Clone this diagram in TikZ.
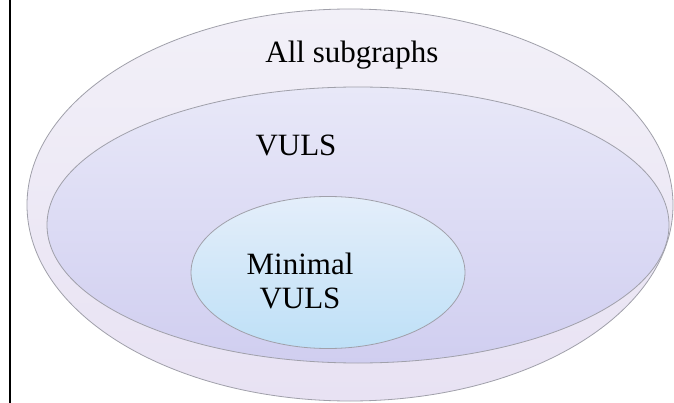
\documentclass[tikz,border=0pt]{standalone}
\usepackage{fontspec}
\setmainfont{Liberation Serif}
\usetikzlibrary{shadings}
\definecolor{outerTop}{RGB}{242,240,248}
\definecolor{outerBot}{RGB}{232,226,243}
\definecolor{midTop}{RGB}{232,232,248}
\definecolor{midBot}{RGB}{208,206,240}
\definecolor{innTop}{RGB}{228,238,250}
\definecolor{innBot}{RGB}{190,224,247}
\definecolor{edge}{RGB}{160,160,170}
\tikzset{
  blob/.style={draw=edge, line width=0.8pt},
  lab/.style={font=\fontsize{31}{34}\selectfont, align=center, inner sep=0pt},
}
\begin{document}
\begin{tikzpicture}[x=1pt,y=-1pt]
\useasboundingbox (0,0) rectangle (674,403);
\fill[white] (0,0) rectangle (674,403);
\coordinate (lt) at (10,0);
\coordinate (lb) at (10,403);
\draw[line width=2pt] (lt) -- (lb);
\path[blob, top color=outerTop, bottom color=outerBot] (350,205) ellipse [x radius=323, y radius=196];
\path[blob, top color=midTop, bottom color=midBot] (358,225) ellipse [x radius=311, y radius=138];
\path[blob, top color=innTop, bottom color=innBot] (328,272.5) ellipse [x radius=137, y radius=76];
\node[lab] (all) at (352,55) {All subgraphs};
\node[lab] (vuls) at (296,145) {VULS};
\node[lab] (min) at (300,281) {Minimal\\VULS};
\end{tikzpicture}
\end{document}
